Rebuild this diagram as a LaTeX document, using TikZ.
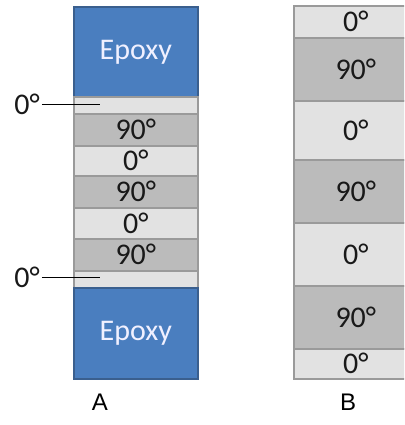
\documentclass[tikz,border=0pt]{standalone}
\usepackage{fontspec}
\setmainfont{Carlito}
\newfontfamily\labfont{Liberation Sans}
\definecolor{epoxyblue}{HTML}{4A7EBF}
\definecolor{epoxyedge}{HTML}{3A5F8E}
\definecolor{plylight}{HTML}{E2E2E2}
\definecolor{plydark}{HTML}{BBBBBB}
\definecolor{plyedge}{HTML}{9A9A9A}
\tikzset{
  ply/.style={draw=plyedge, line width=1.6pt, minimum width=124pt, inner sep=0pt, anchor=north west, font=\fontsize{30}{30}\selectfont, text=black!90},
  plyL/.style={ply, fill=plylight},
  plyD/.style={ply, fill=plydark},
  epoxy/.style={draw=epoxyedge, line width=1.6pt, fill=epoxyblue, minimum width=124pt, inner sep=0pt, anchor=north west, font=\fontsize{30}{30}\selectfont, text=white!94!blue},
  sidelab/.style={font=\fontsize{30}{30}\selectfont, inner sep=0pt, text=black!90},
  caplab/.style={font=\labfont\fontsize{24}{24}\selectfont, inner sep=0pt},
  pointer/.style={draw=black, line width=0.9pt}
}
\begin{document}
\begin{tikzpicture}[x=1pt,y=-1pt]
\useasboundingbox (0,0) rectangle (404,425);
\clip (0,0) rectangle (404,425);
% column A
\node[epoxy, minimum height=90pt] (etop) at (73,6) {Epoxy};
\node[plyL, minimum height=17pt] (a1) at (73,96) {};
\node[plyD, minimum height=32pt] (a2) at (73,113) {90°};
\node[plyL, minimum height=30pt] (a3) at (73,145) {0°};
\node[plyD, minimum height=32pt] (a4) at (73,175) {90°};
\node[plyL, minimum height=31pt] (a5) at (73,207) {0°};
\node[plyD, minimum height=32pt] (a6) at (73,238) {90°};
\node[plyL, minimum height=17pt] (a7) at (73,270) {};
\node[epoxy, minimum height=91pt] (ebot) at (73,287) {Epoxy};
% side labels
\node[sidelab] (l1) at (27,104) {0°};
\node[sidelab] (l2) at (27,277) {0°};
\coordinate (p1) at (100,104.5);
\coordinate (p2) at (100,278.5);
\draw[pointer] (l1.east) ++(2,0) coordinate (s1) -- (s1 -| p1);
\draw[pointer] (l2.east) ++(2,0) coordinate (s2) -- (s2 -| p2);
% column B
\node[plyL, minimum height=32pt] (b1) at (293,5) {0°};
\node[plyD, minimum height=63pt] (b2) at (293,37) {90°};
\node[plyL, minimum height=59pt] (b3) at (293,100) {0°};
\node[plyD, minimum height=63pt] (b4) at (293,159) {90°};
\node[plyL, minimum height=63pt] (b5) at (293,222) {0°};
\node[plyD, minimum height=63pt] (b6) at (293,285) {90°};
\node[plyL, minimum height=30pt] (b7) at (293,348) {0°};
% captions
\node[caplab] (capA) at (100,402) {A};
\node[caplab] (capB) at (348,402) {B};
\end{tikzpicture}
\end{document}
